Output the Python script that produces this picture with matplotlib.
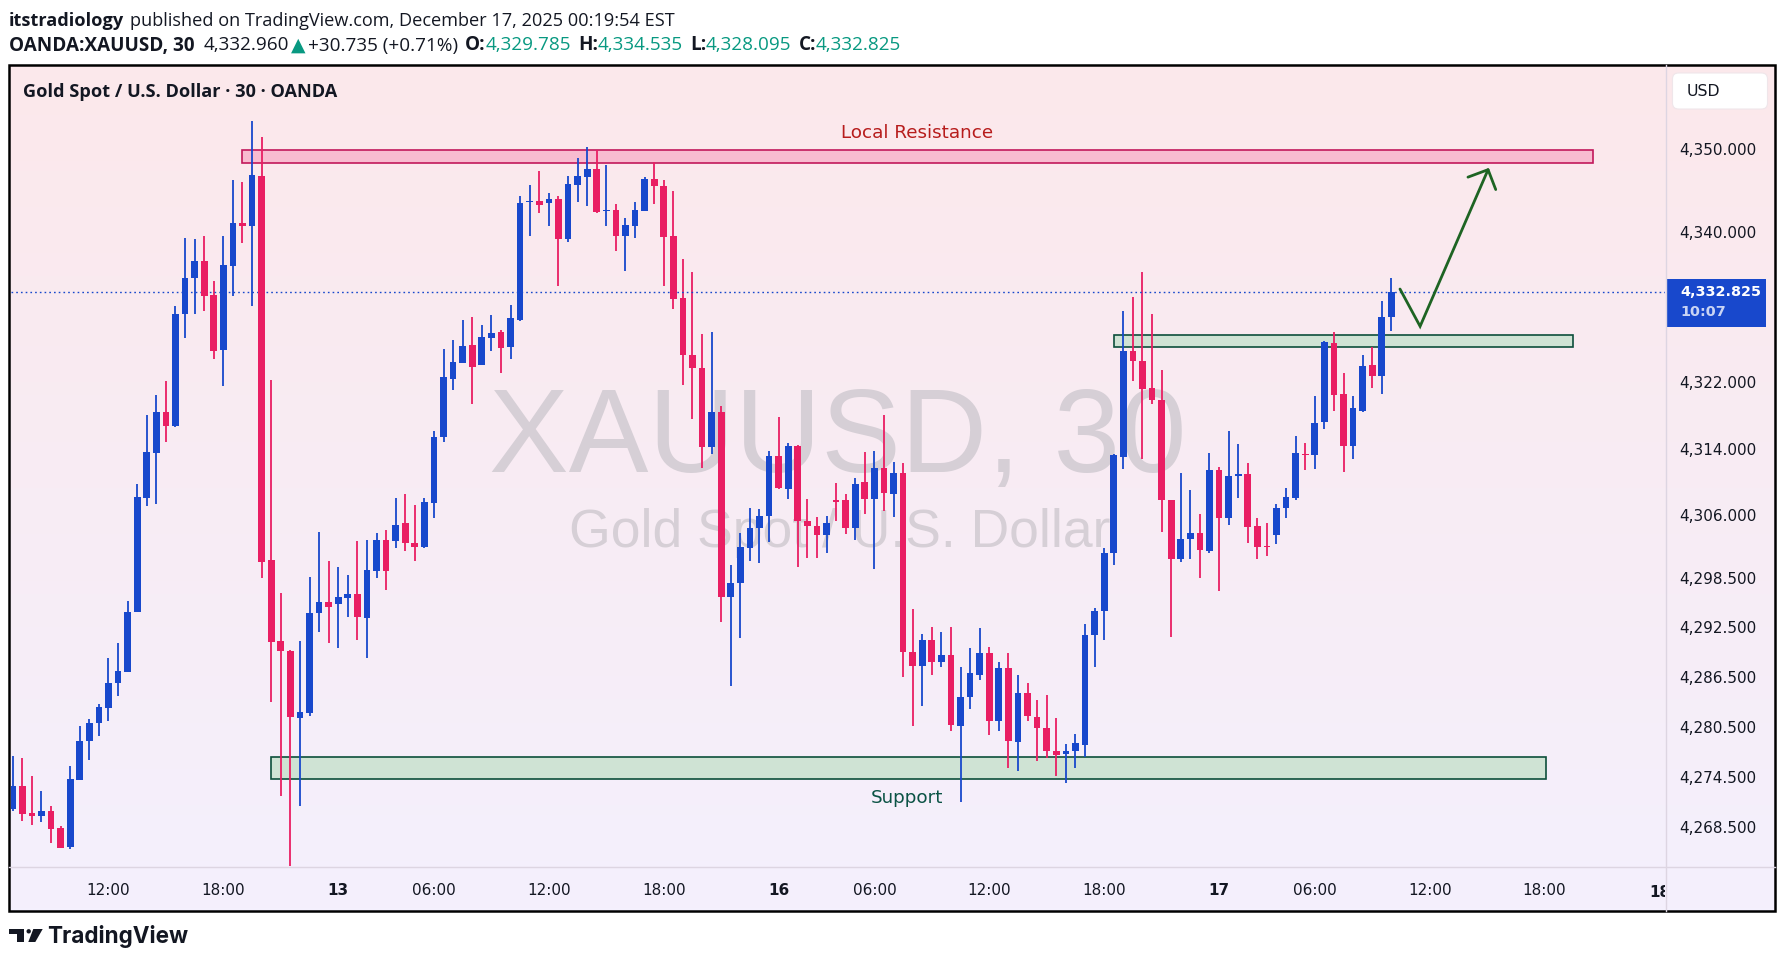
import matplotlib
matplotlib.use("Agg")
import matplotlib.pyplot as plt
import numpy as np
from matplotlib.patches import Rectangle, FancyBboxPatch, Circle, Polygon
from matplotlib.transforms import blended_transform_factory, Bbox, IdentityTransform
from matplotlib.lines import Line2D

# ---------------- data (30-min candles, XAUUSD) ----------------
opens = [
    4270.7, 4273.4, 4270.2, 4269.8, 4270.5, 4268.4, 4266.1, 4274.2, 4278.8, 4281.0,
    4282.8, 4285.8, 4287.1, 4294.4, 4308.1, 4313.5, 4318.4, 4316.7, 4330.2, 4334.5,
    4336.5, 4332.5, 4325.9, 4336.0, 4341.1, 4340.8, 4346.8, 4300.6, 4290.9, 4289.7,
    4281.6, 4282.2, 4294.3, 4295.6, 4295.3, 4296.1, 4296.5, 4293.6, 4299.3, 4303.0,
    4302.9, 4305.0, 4302.6, 4302.2, 4307.5, 4315.4, 4322.4, 4324.3, 4326.4, 4324.0,
    4327.3, 4328.0, 4326.2, 4329.5, 4343.6, 4343.8, 4343.5, 4344.0, 4339.2, 4345.7,
    4346.6, 4347.6, 4342.6, 4342.7, 4339.5, 4340.8, 4342.6, 4346.4, 4345.6, 4339.6,
    4332.1, 4325.2, 4323.7, 4314.2, 4318.4, 4296.2, 4297.8, 4302.1, 4304.5, 4305.9,
    4313.1, 4309.1, 4314.3, 4305.3, 4304.7, 4303.6, 4307.8, 4307.8, 4304.5, 4310.0,
    4308.0, 4311.7, 4308.6, 4311.1, 4289.6, 4287.9, 4291.0, 4288.3, 4289.2, 4280.7,
    4284.2, 4286.8, 4289.4, 4281.2, 4287.6, 4278.7, 4284.6, 4281.8, 4280.4, 4277.7,
    4277.3, 4277.6, 4278.4, 4291.6, 4294.5, 4301.5, 4313.0, 4325.7, 4324.5, 4321.3,
    4319.9, 4307.8, 4300.7, 4303.1, 4303.9, 4301.7, 4311.4, 4305.6, 4310.7, 4310.9,
    4304.7, 4302.3, 4303.6, 4306.9, 4308.1, 4313.3, 4313.2, 4317.2, 4326.7, 4320.6,
    4314.3, 4318.5, 4324.0, 4322.7, 4329.785]
highs = [
    4277.0, 4276.8, 4274.6, 4272.9, 4271.0, 4268.6, 4275.8, 4280.7, 4281.5, 4283.3,
    4288.8, 4290.6, 4295.7, 4309.7, 4318.1, 4320.4, 4322.1, 4331.2, 4339.3, 4339.2,
    4339.5, 4334.1, 4339.5, 4346.3, 4346.0, 4353.4, 4351.5, 4322.2, 4296.7, 4289.8,
    4290.9, 4298.6, 4304.0, 4300.5, 4299.8, 4298.8, 4302.9, 4303.0, 4303.9, 4304.2,
    4308.1, 4308.6, 4307.2, 4308.1, 4316.1, 4326.0, 4327.0, 4329.5, 4329.8, 4328.9,
    4330.1, 4328.2, 4331.3, 4344.4, 4345.7, 4347.4, 4344.7, 4344.4, 4346.8, 4348.9,
    4350.2, 4349.9, 4348.1, 4343.4, 4341.7, 4343.6, 4346.6, 4348.4, 4346.3, 4345.0,
    4336.8, 4335.2, 4327.8, 4328.0, 4319.1, 4300.0, 4303.9, 4306.9, 4306.8, 4313.7,
    4317.8, 4314.7, 4314.4, 4308.0, 4305.8, 4305.9, 4309.9, 4308.6, 4310.5, 4313.6,
    4313.7, 4318.1, 4312.4, 4312.3, 4294.7, 4291.7, 4292.5, 4291.9, 4292.5, 4287.8,
    4290.0, 4292.4, 4290.1, 4288.3, 4289.4, 4286.8, 4285.8, 4283.8, 4284.4, 4281.6,
    4278.5, 4279.7, 4292.9, 4294.9, 4302.1, 4313.3, 4330.5, 4332.2, 4335.2, 4330.2,
    4323.4, 4307.8, 4311.1, 4309.0, 4306.1, 4313.5, 4311.8, 4316.1, 4314.6, 4312.3,
    4305.6, 4305.0, 4307.4, 4309.3, 4315.5, 4314.7, 4320.3, 4326.9, 4328.0, 4323.1,
    4320.3, 4325.2, 4326.2, 4331.7, 4334.535]
lows = [
    4270.5, 4269.2, 4268.7, 4269.1, 4266.6, 4266.0, 4265.9, 4274.2, 4276.6, 4279.5,
    4281.3, 4284.3, 4287.1, 4294.4, 4307.1, 4307.3, 4314.8, 4316.6, 4327.3, 4330.2,
    4330.5, 4324.8, 4321.5, 4332.4, 4338.7, 4331.1, 4298.4, 4283.6, 4272.2, 4263.8,
    4271.1, 4281.9, 4291.9, 4290.6, 4290.0, 4293.7, 4291.0, 4288.8, 4298.5, 4297.0,
    4302.1, 4301.7, 4300.5, 4302.1, 4305.7, 4314.8, 4321.0, 4324.3, 4319.4, 4324.0,
    4325.7, 4323.1, 4324.8, 4329.3, 4339.5, 4342.3, 4340.7, 4333.6, 4338.8, 4343.7,
    4343.2, 4342.3, 4340.8, 4337.8, 4335.4, 4339.3, 4342.6, 4343.4, 4333.6, 4330.8,
    4321.6, 4317.6, 4311.7, 4313.3, 4293.2, 4285.5, 4291.2, 4300.5, 4300.2, 4302.8,
    4309.1, 4308.0, 4299.8, 4300.8, 4300.9, 4301.4, 4305.3, 4303.7, 4303.0, 4306.1,
    4299.5, 4306.5, 4305.8, 4286.5, 4280.7, 4283.1, 4286.8, 4287.7, 4280.0, 4271.5,
    4282.7, 4286.2, 4279.6, 4280.1, 4275.6, 4275.2, 4281.3, 4276.5, 4276.8, 4274.6,
    4273.8, 4275.6, 4276.9, 4287.7, 4291.0, 4300.0, 4311.5, 4322.1, 4312.7, 4319.4,
    4304.0, 4291.4, 4300.4, 4300.7, 4298.4, 4301.4, 4296.9, 4304.8, 4308.1, 4302.7,
    4300.7, 4301.1, 4302.5, 4305.7, 4307.8, 4311.4, 4311.6, 4316.3, 4318.5, 4311.2,
    4312.7, 4318.4, 4321.3, 4320.6, 4328.095]
closes = [
    4273.5, 4270.1, 4269.8, 4270.5, 4268.3, 4266.0, 4274.3, 4278.8, 4281.0, 4283.0,
    4285.8, 4287.3, 4294.4, 4308.2, 4313.6, 4318.4, 4316.7, 4330.2, 4334.5, 4336.5,
    4332.4, 4325.7, 4336.1, 4341.1, 4340.8, 4346.9, 4300.4, 4290.7, 4289.7, 4281.8,
    4282.4, 4294.3, 4295.6, 4295.0, 4296.2, 4296.5, 4293.7, 4299.4, 4303.0, 4299.3,
    4304.8, 4302.6, 4302.2, 4307.6, 4315.4, 4322.6, 4324.4, 4326.3, 4323.8, 4327.4,
    4327.9, 4326.1, 4329.7, 4343.5, 4343.8, 4343.3, 4344.0, 4339.2, 4345.8, 4346.8,
    4347.6, 4342.5, 4342.7, 4339.5, 4340.9, 4342.7, 4346.4, 4345.6, 4339.4, 4332.0,
    4325.3, 4323.7, 4314.2, 4318.4, 4296.2, 4297.9, 4302.2, 4304.5, 4305.9, 4313.1,
    4309.3, 4314.3, 4305.3, 4304.7, 4303.6, 4305.0, 4307.6, 4304.4, 4309.7, 4308.0,
    4311.7, 4308.7, 4311.1, 4289.6, 4287.9, 4291.0, 4288.3, 4289.2, 4280.8, 4284.2,
    4287.0, 4289.4, 4281.2, 4287.6, 4278.9, 4284.6, 4281.9, 4280.4, 4277.6, 4277.2,
    4277.6, 4278.6, 4291.6, 4294.5, 4301.4, 4313.2, 4325.7, 4324.5, 4321.2, 4319.9,
    4307.8, 4300.7, 4303.1, 4303.8, 4301.8, 4311.4, 4305.6, 4310.7, 4310.9, 4304.6,
    4302.2, 4302.2, 4306.9, 4308.2, 4313.5, 4313.2, 4317.1, 4326.8, 4320.5, 4314.3,
    4318.9, 4323.9, 4322.7, 4329.8, 4332.825]

last_price = 4332.825
price_ticks = [4350.0, 4340.0, 4322.0, 4314.0, 4306.0, 4298.5, 4292.5, 4286.5, 4280.5, 4274.5, 4268.5]
price_tick_labels = ["4,350.000", "4,340.000", "4,322.000", "4,314.000", "4,306.000", "4,298.500",
                     "4,292.500", "4,286.500", "4,280.500", "4,274.500", "4,268.500"]
time_tick_idx = [10, 22, 34, 44, 56, 68, 80, 90, 102, 114, 126, 136, 148, 160]
time_tick_labels = ["12:00", "18:00", "13", "06:00", "12:00", "18:00", "16", "06:00",
                    "12:00", "18:00", "17", "06:00", "12:00", "18:00"]
day_labels = {"13", "16", "17", "18"}
clipped_label_idx, clipped_label = 172, "18"

# zones (x in candle index, y in price)
resistance_zone = (24, 165.1, 4348.37, 4349.92)
support_zone = (27, 160.1, 4274.29, 4276.98)
mid_zone = (115.06, 163.0, 4326.18, 4327.62)
arrow_path = [(144.9, 4333.18), (147.0, 4328.70), (154.1, 4347.53)]
arrow_head = [(152.0, 4346.63), (154.1, 4347.53), (154.9, 4345.14)]

# ---------------- styling ----------------
W, H = 1785, 965
BLUE = "#1848cc"
RED = "#e91e63"
TEAL = "#089981"
INK = "#131722"

fig = plt.figure(figsize=(W / 100, H / 100), dpi=100)
fig.patch.set_facecolor("white")


def fx(x):
    return x / W


def fy(y):
    return 1 - y / H


# background gradient inside the frame
bg = fig.add_axes([fx(9), fy(911), fx(1775) - fx(9), fy(65) - fy(911)])
top_c = np.array([252, 232, 235]) / 255
bot_c = np.array([244, 240, 253]) / 255
g = np.linspace(0, 1, 256)[:, None, None]
img = top_c[None, None, :] * (1 - g) + bot_c[None, None, :] * g
bg.imshow(img, aspect="auto", extent=[0, 1, 0, 1], origin="upper")
bg.set_xlim(0, 1)
bg.set_ylim(0, 1)
bg.axis("off")

# watermark
bg.text(fx(838), fy(471.7), "XAUUSD, 30", transform=fig.transFigure, fontsize=86,
        family="Liberation Sans", color="#d6cfd6", ha="center", va="baseline")
bg.text(fx(840), fy(546.7), "Gold Spot / U.S. Dollar", transform=fig.transFigure, fontsize=38.5,
        family="Liberation Sans", color="#d6cfd6", ha="center", va="baseline")

# main axes
ax = fig.add_axes([fx(11), fy(867), fx(1665) - fx(11), fy(66) - fy(867)])
ax.set_facecolor("none")
ax.set_xlim(-0.18, 172.58)
ax.set_ylim(4263.71, 4359.99)
for s in ax.spines.values():
    s.set_visible(False)

o = np.array(opens)
h = np.array(highs)
l = np.array(lows)
c = np.array(closes)
x = np.arange(len(o))
cols = np.where(c >= o, BLUE, RED)

# zones
for (x0, x1, y0, y1), fc, ec in [(resistance_zone, "#f8bbd0", "#c2185b"),
                                  (support_zone, "#cfe3d4", "#0d4f3b"),
                                  (mid_zone, "#cfe3d4", "#0d4f3b")]:
    ax.add_patch(Rectangle((x0, y0), x1 - x0, y1 - y0, facecolor=fc, edgecolor=ec,
                           linewidth=1.2, zorder=2))

ax.vlines(x, l, h, colors=cols, linewidth=1.3, zorder=3)
body_lo = np.minimum(o, c)
body_h = np.maximum(np.abs(c - o), 0.13)
ax.bar(x, body_h, bottom=body_lo, width=0.7, color=cols, linewidth=0, zorder=4)

ax.axhline(last_price, color=BLUE, linewidth=1.0, linestyle=(0, (1.2, 2.2)), zorder=3)

ax.text(94.45, 4351.9, "Local Resistance", color="#b71c1c", fontsize=13.2,
        ha="center", va="center", zorder=5)
ax.text(93.4, 4271.95, "Support", color="#0b5345", fontsize=13.2,
        ha="center", va="center", zorder=5)

ax.plot(*zip(*arrow_path), color="#1e6423", linewidth=2.0, zorder=6, solid_capstyle="round",
        solid_joinstyle="miter")
ax.plot(*zip(*arrow_head), color="#1e6423", linewidth=2.0, zorder=6, solid_capstyle="round")

# axes ticks
ax.yaxis.tick_right()
ax.set_yticks(price_ticks, price_tick_labels)
ax.tick_params(axis="y", length=0, pad=10.5, labelsize=11, labelcolor=INK)
ax.set_xticks(time_tick_idx, time_tick_labels)
ax.tick_params(axis="x", length=0, pad=11.8, labelsize=11, labelcolor=INK)
for t in ax.get_xticklabels():
    if t.get_text() in day_labels:
        t.set_fontweight("bold")

t18 = fig.text(clipped_label_idx, fy(892.5), clipped_label,
               transform=blended_transform_factory(ax.transData, fig.transFigure),
               fontsize=11, fontweight="bold", color=INK, ha="center", va="center")
t18.set_clip_box(Bbox.from_extents(0, 0, 1665, H))
t18.set_clip_on(True)

# separators
fig.add_artist(Line2D([fx(9), fx(1775)], [fy(867), fy(867)], color="#ddd5e2", linewidth=1.0))
fig.add_artist(Line2D([fx(1665.5), fx(1665.5)], [fy(65), fy(911)], color="#ddd5e2", linewidth=1.0))

ID = IdentityTransform()


def P(xp, yp):
    return (xp, H - yp)


# current price label
fig.add_artist(Rectangle(P(1666.7, 326.7), 1766 - 1666.7, 326.7 - 279, transform=ID,
                         facecolor=BLUE, edgecolor="none"))
fig.text(fx(1680), fy(292), "4,332.825", color="white", fontsize=10.4, fontweight="bold",
         ha="left", va="center")
fig.text(fx(1680), fy(312.5), "10:07", color="#c9d4f4", fontsize=10.4, fontweight="bold",
         ha="left", va="center")

# USD box
fig.add_artist(FancyBboxPatch(P(1675, 106.5), 1765 - 1675, 106.5 - 75.5, transform=ID,
                              boxstyle="round,pad=2.5,rounding_size=6",
                              facecolor="white", edgecolor="#efe6ea", linewidth=0.8))
fig.text(fx(1687), fy(91), "USD", color=INK, fontsize=11.3, ha="left", va="center")

# frame
fig.add_artist(Rectangle(P(9, 911), 1766, 846, transform=ID, fill=False,
                         edgecolor="black", linewidth=1.8))

renderer = fig.canvas.get_renderer()


def text_runs(items, x0, y, size, target, family="DejaVu Sans"):
    def layout(sz):
        arts = []
        xp = x0
        for s, col, wt, gap in items:
            t = fig.text(fx(xp), fy(y), s, color=col, fontsize=sz, fontweight=wt,
                         ha="left", va="center", family=family)
            arts.append(t)
            xp += t.get_window_extent(renderer).width + gap * sz / 10.0
        return arts, xp - x0
    arts, w = layout(size)
    for a in arts:
        a.remove()
    arts, w = layout(size * target / w)
    return arts


text_runs([("itstradiology", INK, "bold", 4.5),
           ("published on TradingView.com, December 17, 2025 00:19:54 EST", INK, "normal", 0)],
          9, 20.5, 11, 665, family="Open Sans")
text_runs([("OANDA:XAUUSD, 30", INK, "bold", 7),
           ("4,332.960", INK, "normal", 1),
           ("▲", TEAL, "normal", 2),
           ("+30.735 (+0.71%)", INK, "normal", 5),
           ("O:", INK, "bold", 0), ("4,329.785", TEAL, "normal", 5),
           ("H:", INK, "bold", 0), ("4,334.535", TEAL, "normal", 5),
           ("L:", INK, "bold", 0), ("4,328.095", TEAL, "normal", 5),
           ("C:", INK, "bold", 0), ("4,332.825", TEAL, "normal", 0)],
          9, 45.5, 11, 887, family=["Open Sans", "DejaVu Sans"])
text_runs([("Gold Spot / U.S. Dollar · 30 · OANDA", INK, "bold", 0)],
          23, 92.3, 11, 314, family="Open Sans")

# TradingView logo
fig.add_artist(Rectangle(P(8.5, 933.5), 24 - 8.5, 933.5 - 929, transform=ID, facecolor=INK))
fig.add_artist(Rectangle(P(16.5, 942), 24 - 16.5, 942 - 929, transform=ID, facecolor=INK))
fig.add_artist(Circle(P(28.7, 931.3), 2.2, transform=ID, facecolor=INK))
fig.add_artist(Polygon([P(33.3, 929), P(42.7, 929), P(35.3, 942), P(28.3, 942)], closed=True,
                       transform=ID, facecolor=INK))
text_runs([("TradingView", INK, "bold", 0)], 46.7, 937, 14, 141.6, family="Inter")

fig.savefig("out.png", dpi=100)
